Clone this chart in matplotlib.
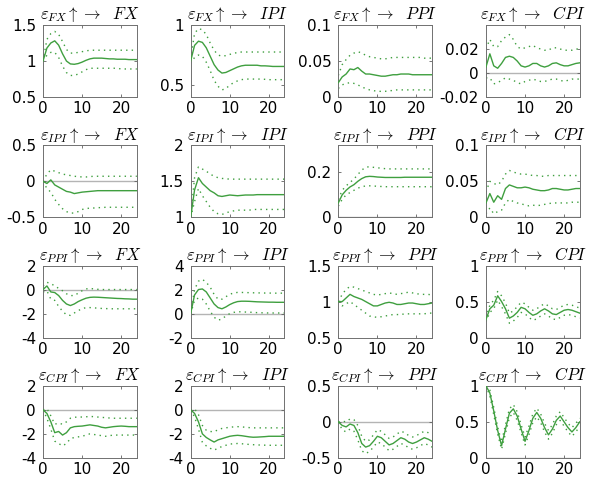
import numpy as np
import matplotlib
matplotlib.use('Agg')
import matplotlib.pyplot as plt

plt.rcParams['font.family'] = ['DejaVu Sans']
plt.rcParams['mathtext.fontset'] = 'cm'

horizon = np.arange(25)
shocks = ['FX', 'IPI', 'PPI', 'CPI']
responses = ['FX', 'IPI', 'PPI', 'CPI']

# row 1: shock FX
fx_fx_mid = [1.0, 1.18, 1.25, 1.28, 1.22, 1.1, 1.0, 0.96, 0.955, 0.965, 0.985, 1.01, 1.03, 1.04, 1.04, 1.04, 1.035, 1.03, 1.03, 1.025, 1.025, 1.025, 1.02, 1.02, 1.02]
fx_fx_hi = [1.0, 1.3, 1.38, 1.41, 1.37, 1.27, 1.16, 1.11, 1.11, 1.12, 1.13, 1.14, 1.15, 1.15, 1.15, 1.15, 1.15, 1.15, 1.15, 1.15, 1.15, 1.15, 1.15, 1.15, 1.15]
fx_fx_lo = [1.0, 1.08, 1.12, 1.12, 1.05, 0.93, 0.84, 0.8, 0.8, 0.82, 0.85, 0.88, 0.9, 0.9, 0.9, 0.9, 0.9, 0.9, 0.9, 0.9, 0.89, 0.89, 0.89, 0.89, 0.89]

fx_ipi_mid = [0.7, 0.83, 0.865, 0.855, 0.81, 0.74, 0.67, 0.625, 0.6, 0.605, 0.62, 0.635, 0.65, 0.66, 0.665, 0.665, 0.665, 0.665, 0.66, 0.66, 0.658, 0.655, 0.655, 0.655, 0.655]
fx_ipi_hi = [0.72, 0.93, 0.97, 0.96, 0.92, 0.85, 0.79, 0.75, 0.74, 0.745, 0.755, 0.765, 0.77, 0.775, 0.775, 0.775, 0.775, 0.775, 0.775, 0.775, 0.775, 0.775, 0.775, 0.775, 0.775]
fx_ipi_lo = [0.68, 0.73, 0.75, 0.74, 0.69, 0.62, 0.54, 0.49, 0.46, 0.47, 0.5, 0.52, 0.535, 0.545, 0.55, 0.55, 0.55, 0.55, 0.55, 0.548, 0.545, 0.545, 0.545, 0.545, 0.545]

fx_ppi_mid = [0.02, 0.028, 0.032, 0.039, 0.038, 0.041, 0.036, 0.032, 0.032, 0.031, 0.03, 0.029, 0.029, 0.03, 0.031, 0.031, 0.032, 0.032, 0.032, 0.031, 0.031, 0.031, 0.031, 0.031, 0.031]
fx_ppi_hi = [0.03, 0.045, 0.052, 0.058, 0.061, 0.063, 0.061, 0.058, 0.056, 0.055, 0.054, 0.053, 0.053, 0.054, 0.055, 0.055, 0.055, 0.055, 0.055, 0.055, 0.055, 0.055, 0.054, 0.054, 0.054]
fx_ppi_lo = [0.012, 0.017, 0.019, 0.02, 0.019, 0.017, 0.014, 0.012, 0.01, 0.009, 0.008, 0.008, 0.008, 0.009, 0.009, 0.01, 0.01, 0.01, 0.01, 0.01, 0.01, 0.01, 0.01, 0.01, 0.01]

fx_cpi_mid = [0.005, 0.016, 0.006, 0.004, 0.008, 0.013, 0.014, 0.013, 0.01, 0.006, 0.005, 0.006, 0.008, 0.008, 0.006, 0.005, 0.006, 0.008, 0.0085, 0.007, 0.006, 0.006, 0.007, 0.008, 0.0085]
fx_cpi_hi = [0.02, 0.028, 0.022, 0.022, 0.027, 0.03, 0.032, 0.028, 0.022, 0.02, 0.021, 0.022, 0.023, 0.021, 0.02, 0.019, 0.019, 0.021, 0.021, 0.02, 0.019, 0.019, 0.019, 0.02, 0.02]
fx_cpi_lo = [-0.004, -0.004, -0.009, -0.008, -0.006, -0.004, -0.005, -0.006, -0.008, -0.009, -0.007, -0.006, -0.005, -0.006, -0.007, -0.007, -0.006, -0.005, -0.005, -0.006, -0.007, -0.006, -0.005, -0.005, -0.005]

# row 2: shock IPI
ipi_fx_mid = [0.0, -0.03, 0.02, -0.05, -0.08, -0.11, -0.14, -0.15, -0.17, -0.16, -0.15, -0.145, -0.14, -0.135, -0.13, -0.13, -0.13, -0.13, -0.13, -0.13, -0.13, -0.13, -0.13, -0.13, -0.13]
ipi_fx_hi = [0.0, 0.1, 0.16, 0.14, 0.12, 0.1, 0.09, 0.08, 0.07, 0.065, 0.06, 0.06, 0.065, 0.07, 0.07, 0.07, 0.07, 0.07, 0.07, 0.07, 0.07, 0.07, 0.07, 0.07, 0.07]
ipi_fx_lo = [0.0, -0.1, -0.15, -0.25, -0.32, -0.38, -0.42, -0.44, -0.44, -0.42, -0.39, -0.38, -0.37, -0.37, -0.365, -0.365, -0.36, -0.36, -0.36, -0.36, -0.36, -0.36, -0.36, -0.36, -0.36]

ipi_ipi_mid = [1.0, 1.38, 1.55, 1.47, 1.42, 1.37, 1.34, 1.3, 1.29, 1.3, 1.31, 1.305, 1.3, 1.305, 1.31, 1.31, 1.31, 1.315, 1.315, 1.315, 1.315, 1.315, 1.315, 1.315, 1.315]
ipi_ipi_hi = [1.0, 1.55, 1.7, 1.67, 1.64, 1.6, 1.57, 1.55, 1.54, 1.535, 1.53, 1.53, 1.53, 1.53, 1.53, 1.53, 1.53, 1.53, 1.53, 1.53, 1.53, 1.53, 1.53, 1.53, 1.53]
ipi_ipi_lo = [1.0, 1.22, 1.4, 1.3, 1.22, 1.14, 1.08, 1.05, 1.04, 1.06, 1.08, 1.09, 1.1, 1.1, 1.1, 1.1, 1.11, 1.11, 1.11, 1.11, 1.11, 1.11, 1.11, 1.11, 1.11]

ipi_ppi_mid = [0.064, 0.1, 0.12, 0.135, 0.145, 0.16, 0.172, 0.18, 0.182, 0.181, 0.179, 0.178, 0.177, 0.177, 0.177, 0.177, 0.177, 0.178, 0.178, 0.178, 0.178, 0.178, 0.178, 0.178, 0.178]
ipi_ppi_hi = [0.08, 0.12, 0.14, 0.155, 0.17, 0.19, 0.21, 0.222, 0.225, 0.222, 0.22, 0.218, 0.216, 0.215, 0.215, 0.215, 0.215, 0.215, 0.215, 0.215, 0.215, 0.215, 0.215, 0.215, 0.215]
ipi_ppi_lo = [0.05, 0.08, 0.1, 0.11, 0.12, 0.13, 0.135, 0.14, 0.14, 0.139, 0.138, 0.137, 0.136, 0.136, 0.136, 0.136, 0.136, 0.136, 0.136, 0.136, 0.136, 0.136, 0.136, 0.136, 0.136]

ipi_cpi_mid = [0.02, 0.033, 0.021, 0.03, 0.025, 0.04, 0.045, 0.043, 0.041, 0.041, 0.042, 0.041, 0.039, 0.038, 0.037, 0.037, 0.038, 0.04, 0.04, 0.039, 0.038, 0.038, 0.039, 0.04, 0.04]
ipi_cpi_hi = [0.035, 0.05, 0.047, 0.045, 0.05, 0.06, 0.065, 0.063, 0.061, 0.06, 0.06, 0.059, 0.058, 0.058, 0.057, 0.057, 0.058, 0.058, 0.058, 0.058, 0.058, 0.058, 0.058, 0.058, 0.058]
ipi_cpi_lo = [0.005, 0.013, 0.005, 0.008, 0.01, 0.02, 0.025, 0.022, 0.02, 0.019, 0.017, 0.016, 0.017, 0.016, 0.017, 0.018, 0.019, 0.02, 0.02, 0.02, 0.02, 0.02, 0.021, 0.021, 0.021]

# row 3: shock PPI
ppi_fx_mid = [0.0, 0.3, -0.2, -0.25, -0.5, -0.9, -1.2, -1.33, -1.2, -1.0, -0.85, -0.72, -0.65, -0.63, -0.64, -0.66, -0.68, -0.7, -0.72, -0.74, -0.75, -0.77, -0.78, -0.8, -0.8]
ppi_fx_hi = [0.3, 0.6, 0.5, 0.3, 0.1, -0.1, -0.35, -0.5, -0.5, -0.3, -0.1, 0.05, 0.1, 0.05, 0.02, 0.0, 0.0, 0.0, 0.0, 0.0, 0.0, 0.0, 0.0, 0.0, 0.0]
ppi_fx_lo = [-0.2, -0.1, -0.8, -0.9, -1.4, -1.8, -2.1, -2.15, -1.95, -1.75, -1.6, -1.5, -1.5, -1.52, -1.55, -1.57, -1.58, -1.6, -1.6, -1.6, -1.6, -1.6, -1.6, -1.6, -1.6]

ppi_ipi_mid = [0.0, 1.55, 2.0, 2.05, 1.8, 1.3, 0.8, 0.5, 0.4, 0.55, 0.75, 0.9, 1.0, 1.03, 1.03, 1.02, 1.0, 0.98, 0.97, 0.96, 0.95, 0.95, 0.94, 0.94, 0.94]
ppi_ipi_hi = [0.0, 2.0, 2.7, 2.85, 2.6, 2.2, 1.6, 1.2, 1.2, 1.4, 1.6, 1.72, 1.76, 1.76, 1.75, 1.74, 1.73, 1.72, 1.72, 1.71, 1.71, 1.7, 1.7, 1.7, 1.7]
ppi_ipi_lo = [0.0, 1.1, 1.3, 1.2, 0.8, 0.2, -0.3, -0.55, -0.45, -0.2, 0.0, 0.1, 0.15, 0.15, 0.13, 0.12, 0.1, 0.08, 0.07, 0.06, 0.05, 0.05, 0.05, 0.05, 0.05]

ppi_ppi_mid = [1.0, 1.0, 1.05, 1.1, 1.07, 1.05, 1.03, 1.0, 0.97, 0.94, 0.94, 0.96, 0.98, 0.99, 0.98, 0.96, 0.96, 0.97, 0.98, 0.98, 0.97, 0.96, 0.96, 0.97, 0.98]
ppi_ppi_hi = [1.0, 1.1, 1.17, 1.21, 1.2, 1.18, 1.16, 1.14, 1.12, 1.1, 1.09, 1.1, 1.11, 1.12, 1.11, 1.1, 1.11, 1.12, 1.13, 1.12, 1.11, 1.1, 1.1, 1.1, 1.09]
ppi_ppi_lo = [1.0, 0.94, 0.97, 1.0, 0.96, 0.92, 0.88, 0.84, 0.8, 0.79, 0.78, 0.79, 0.8, 0.81, 0.82, 0.82, 0.82, 0.83, 0.83, 0.83, 0.83, 0.83, 0.83, 0.84, 0.84]

ppi_cpi_mid = [0.25, 0.4, 0.45, 0.58, 0.5, 0.4, 0.27, 0.3, 0.35, 0.42, 0.4, 0.35, 0.31, 0.33, 0.37, 0.4, 0.37, 0.33, 0.32, 0.35, 0.38, 0.39, 0.38, 0.36, 0.34]
ppi_cpi_hi = [0.28, 0.45, 0.52, 0.64, 0.58, 0.48, 0.34, 0.37, 0.43, 0.49, 0.47, 0.42, 0.38, 0.4, 0.44, 0.47, 0.44, 0.4, 0.39, 0.42, 0.45, 0.46, 0.45, 0.43, 0.41]
ppi_cpi_lo = [0.22, 0.35, 0.4, 0.52, 0.43, 0.33, 0.2, 0.23, 0.28, 0.35, 0.33, 0.28, 0.24, 0.26, 0.3, 0.33, 0.3, 0.26, 0.25, 0.28, 0.31, 0.32, 0.31, 0.29, 0.27]

# row 4: shock CPI
cpi_fx_mid = [0.0, -0.3, -1.0, -1.9, -1.8, -2.1, -1.9, -1.5, -1.4, -1.37, -1.35, -1.3, -1.25, -1.3, -1.35, -1.45, -1.5, -1.45, -1.4, -1.37, -1.35, -1.37, -1.4, -1.4, -1.4]
cpi_fx_hi = [0.0, 0.1, -0.5, -1.2, -1.1, -1.2, -1.0, -0.7, -0.62, -0.6, -0.6, -0.58, -0.55, -0.57, -0.6, -0.63, -0.65, -0.68, -0.7, -0.7, -0.7, -0.7, -0.7, -0.7, -0.7]
cpi_fx_lo = [0.0, -0.7, -1.6, -2.6, -2.8, -3.0, -2.8, -2.4, -2.3, -2.25, -2.2, -2.1, -2.0, -2.05, -2.1, -2.15, -2.2, -2.15, -2.1, -2.1, -2.1, -2.1, -2.1, -2.1, -2.1]

cpi_ipi_mid = [0.0, -0.3, -1.0, -2.0, -2.3, -2.5, -2.68, -2.5, -2.4, -2.3, -2.2, -2.15, -2.12, -2.15, -2.2, -2.25, -2.28, -2.27, -2.25, -2.23, -2.2, -2.2, -2.2, -2.2, -2.2]
cpi_ipi_hi = [0.0, 0.1, -0.4, -1.3, -1.7, -1.8, -1.83, -1.65, -1.55, -1.5, -1.45, -1.42, -1.4, -1.42, -1.45, -1.48, -1.5, -1.5, -1.5, -1.5, -1.5, -1.5, -1.5, -1.5, -1.5]
cpi_ipi_lo = [0.0, -0.6, -1.6, -2.7, -3.0, -3.2, -3.35, -3.2, -3.05, -2.95, -2.85, -2.82, -2.8, -2.82, -2.85, -2.88, -2.9, -2.92, -2.93, -2.94, -2.95, -2.95, -2.95, -2.95, -2.95]

cpi_ppi_mid = [0.0, -0.05, -0.07, -0.03, -0.05, -0.15, -0.3, -0.35, -0.33, -0.27, -0.2, -0.22, -0.27, -0.32, -0.3, -0.26, -0.22, -0.24, -0.28, -0.3, -0.28, -0.25, -0.22, -0.24, -0.27]
cpi_ppi_hi = [0.0, 0.01, 0.0, 0.04, 0.03, -0.05, -0.2, -0.27, -0.25, -0.18, -0.11, -0.13, -0.18, -0.23, -0.21, -0.17, -0.13, -0.15, -0.19, -0.21, -0.19, -0.16, -0.13, -0.15, -0.18]
cpi_ppi_lo = [0.0, -0.11, -0.14, -0.1, -0.13, -0.25, -0.4, -0.44, -0.41, -0.35, -0.28, -0.3, -0.35, -0.4, -0.38, -0.34, -0.3, -0.32, -0.36, -0.38, -0.36, -0.33, -0.3, -0.32, -0.35]

cpi_cpi_mid = [1.0, 0.9, 0.65, 0.38, 0.17, 0.4, 0.62, 0.68, 0.58, 0.4, 0.23, 0.38, 0.55, 0.63, 0.55, 0.42, 0.32, 0.4, 0.52, 0.58, 0.5, 0.42, 0.36, 0.42, 0.5]
cpi_cpi_hi = [1.0, 0.94, 0.7, 0.43, 0.22, 0.46, 0.68, 0.74, 0.64, 0.46, 0.29, 0.44, 0.61, 0.69, 0.61, 0.48, 0.38, 0.46, 0.58, 0.64, 0.56, 0.48, 0.42, 0.48, 0.55]
cpi_cpi_lo = [1.0, 0.86, 0.6, 0.33, 0.12, 0.34, 0.56, 0.63, 0.52, 0.35, 0.18, 0.32, 0.49, 0.57, 0.49, 0.36, 0.26, 0.34, 0.46, 0.52, 0.44, 0.36, 0.3, 0.36, 0.44]

irf = [
    [(fx_fx_mid, fx_fx_lo, fx_fx_hi), (fx_ipi_mid, fx_ipi_lo, fx_ipi_hi),
     (fx_ppi_mid, fx_ppi_lo, fx_ppi_hi), (fx_cpi_mid, fx_cpi_lo, fx_cpi_hi)],
    [(ipi_fx_mid, ipi_fx_lo, ipi_fx_hi), (ipi_ipi_mid, ipi_ipi_lo, ipi_ipi_hi),
     (ipi_ppi_mid, ipi_ppi_lo, ipi_ppi_hi), (ipi_cpi_mid, ipi_cpi_lo, ipi_cpi_hi)],
    [(ppi_fx_mid, ppi_fx_lo, ppi_fx_hi), (ppi_ipi_mid, ppi_ipi_lo, ppi_ipi_hi),
     (ppi_ppi_mid, ppi_ppi_lo, ppi_ppi_hi), (ppi_cpi_mid, ppi_cpi_lo, ppi_cpi_hi)],
    [(cpi_fx_mid, cpi_fx_lo, cpi_fx_hi), (cpi_ipi_mid, cpi_ipi_lo, cpi_ipi_hi),
     (cpi_ppi_mid, cpi_ppi_lo, cpi_ppi_hi), (cpi_cpi_mid, cpi_cpi_lo, cpi_cpi_hi)],
]

# y limits and tick labels per panel
ylims = [
    [(0.5, 1.5), (0.4, 1.0), (0, 0.1), (-0.02, 0.04)],
    [(-0.5, 0.5), (1, 2), (0, 0.32), (0, 0.1)],
    [(-4, 2), (-2, 4), (0.5, 1.5), (0, 1)],
    [(-4, 2), (-4, 2), (-0.5, 0.5), (0, 1)],
]
yticks = [
    [[0.5, 1, 1.5], [0.5, 1], [0, 0.05, 0.1], [-0.02, 0, 0.02]],
    [[-0.5, 0, 0.5], [1, 1.5, 2], [0, 0.2], [0, 0.05, 0.1]],
    [[-4, -2, 0, 2], [-2, 0, 2, 4], [0.5, 1, 1.5], [0, 0.5, 1]],
    [[-4, -2, 0, 2], [-4, -2, 0, 2], [-0.5, 0, 0.5], [0, 0.5, 1]],
]
ytlabels = [
    [['0.5', '1', '1.5'], ['0.5', '1'], ['0', '0.05', '0.1'], ['-0.02', '0', '0.02']],
    [['-0.5', '0', '0.5'], ['1', '1.5', '2'], ['0', '0.2'], ['0', '0.05', '0.1']],
    [['-4', '-2', '0', '2'], ['-2', '0', '2', '4'], ['0.5', '1', '1.5'], ['0', '0.5', '1']],
    [['-4', '-2', '0', '2'], ['-4', '-2', '0', '2'], ['-0.5', '0', '0.5'], ['0', '0.5', '1']],
]

green = '#3f9f3f'

fig, axes = plt.subplots(4, 4, figsize=(5.94, 4.8), dpi=100)
fig.subplots_adjust(left=0.0724, right=0.976, top=0.948, bottom=0.046,
                    wspace=0.574, hspace=0.667)

for i in range(4):
    for j in range(4):
        ax = axes[i, j]
        mid, lo, hi = irf[i][j]
        ax.axhline(0, color='#b4b4b4', lw=1, zorder=1)
        ax.plot(horizon, mid, color=green, lw=1, zorder=3)
        ax.plot(horizon, lo, color=green, lw=1, ls=(0, (1, 3)), zorder=2)
        ax.plot(horizon, hi, color=green, lw=1, ls=(0, (1, 3)), zorder=2)
        ax.set_xlim(0, 24)
        ax.set_ylim(*ylims[i][j])
        ax.set_xticks([0, 10, 20])
        ax.set_xticklabels(['0', '10', '20'])
        ax.set_yticks(yticks[i][j])
        ax.set_yticklabels(ytlabels[i][j])
        ax.tick_params(direction='in', length=2.5, width=0.6, color='#606060',
                       labelsize=11, top=True, right=True)
        ax.tick_params(axis='y', pad=5)
        ax.tick_params(axis='x', pad=3)
        for s in ax.spines.values():
            s.set_color('#707070')
            s.set_linewidth(0.7)
        ax.set_title(r'$\varepsilon_{%s}\uparrow\rightarrow\ \ %s$' % (shocks[i], responses[j]),
                     fontsize=12, pad=4)

fig.savefig('out.png', dpi=100)
